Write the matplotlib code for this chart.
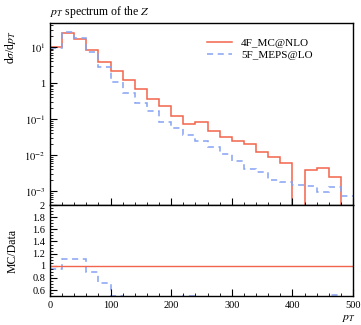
import numpy as np
import matplotlib
matplotlib.use('Agg')
import matplotlib.pyplot as plt
from matplotlib.ticker import MultipleLocator, LogLocator, FuncFormatter, NullFormatter

plt.rcParams['font.family'] = ['Liberation Serif', 'DejaVu Serif']
plt.rcParams['mathtext.fontset'] = 'stix'

### Histogram data, bins of 20 GeV
edges = np.arange(0, 520, 20)
mcnlo_4f = [10.0, 24.0, 16.4, 8.3, 3.8, 2.15, 1.19, 0.68, 0.35, 0.234,
            0.123, 0.071, 0.081, 0.047, 0.032, 0.025, 0.020, 0.0123, 0.0089, 0.0059,
            0.0, 0.0038, 0.0045, 0.0025, 0.0]
meps_5f = [9.5, 26.6, 18.1, 7.4, 2.73, 1.09, 0.52, 0.27, 0.17, 0.084,
           0.057, 0.036, 0.0245, 0.0163, 0.0106, 0.0068, 0.0041, 0.0033, 0.0020, 0.0018,
           0.0015, 0.0014, 0.00096, 0.00131, 0.00072]
labels = ['4F_MC@NLO', '5F_MEPS@LO']

red = '#f2644c'
blue = '#86a2f2'

mc = np.array(mcnlo_4f)
me = np.array(meps_5f)
ratio = np.full(len(mc), np.nan)
ratio[mc > 0] = me[mc > 0] / mc[mc > 0]

fig = plt.figure(figsize=(3.61, 3.25), dpi=100)
ax = fig.add_axes([0.1385, 0.369, 0.8395, 0.560])
rax = fig.add_axes([0.1385, 0.089, 0.8395, 0.280])

# main panel
ax.stairs(mc, edges, baseline=None, color=red, lw=1.1, label=labels[0])
ax.stairs(me, edges, baseline=None, color=blue, lw=1.1, ls=(0, (4, 3)), label=labels[1])
ax.set_yscale('log', nonpositive='clip')
ax.set_xlim(0, 500)
ax.set_ylim(4.1e-4, 46)

def logfmt(v, pos):
    n = int(round(np.log10(v)))
    if n == 0:
        return '1'
    return r'$10^{%d}$' % n

ax.yaxis.set_major_locator(LogLocator(base=10, numticks=10))
ax.yaxis.set_minor_locator(LogLocator(base=10, subs=np.arange(2, 10), numticks=10))
ax.yaxis.set_major_formatter(FuncFormatter(logfmt))
ax.yaxis.set_minor_formatter(NullFormatter())
ax.xaxis.set_major_locator(MultipleLocator(100))
ax.xaxis.set_minor_locator(MultipleLocator(20))
ax.set_xticklabels([])
ax.tick_params(which='both', direction='in', labelsize=7.5, top=False, right=False)
ax.tick_params(which='major', length=5)
ax.tick_params(which='minor', length=2.5)
ax.set_ylabel(r'd$\sigma$/d$p_T$', fontsize=8.5)
ax.yaxis.set_label_coords(-0.105, 0.87)
ax.set_title(r'$p_T$ spectrum of the $Z$', fontsize=8.5, loc='left', pad=6)
ax.legend(loc='upper right', frameon=False, fontsize=8, handlelength=2.3,
          bbox_to_anchor=(0.9, 0.97), labelspacing=0.2)

# ratio panel
rax.axhline(1.0, color=red, lw=1.0)
rax.stairs(ratio, edges, baseline=None, color=blue, lw=1.1, ls=(0, (4, 3)))
rax.set_xlim(0, 500)
rax.set_ylim(0.5, 2.0)
rax.yaxis.set_major_locator(MultipleLocator(0.2))
rax.yaxis.set_minor_locator(MultipleLocator(0.05))
rax.yaxis.set_major_formatter(FuncFormatter(lambda v, p: ('%g' % round(v, 1)) if v > 0.55 else ''))
rax.xaxis.set_major_locator(MultipleLocator(100))
rax.xaxis.set_minor_locator(MultipleLocator(20))
rax.tick_params(which='both', direction='in', labelsize=7.5, top=False, right=False)
rax.tick_params(which='major', length=5)
rax.tick_params(which='minor', length=2.5)
rax.set_ylabel('MC/Data', fontsize=8.5)
rax.yaxis.set_label_coords(-0.105, 0.5)
rax.set_xlabel(r'$p_T$', fontsize=8.5)
rax.xaxis.set_label_coords(0.985, -0.17)

for a in (ax, rax):
    for s in a.spines.values():
        s.set_linewidth(1.0)

fig.savefig('out.png', dpi=100)
